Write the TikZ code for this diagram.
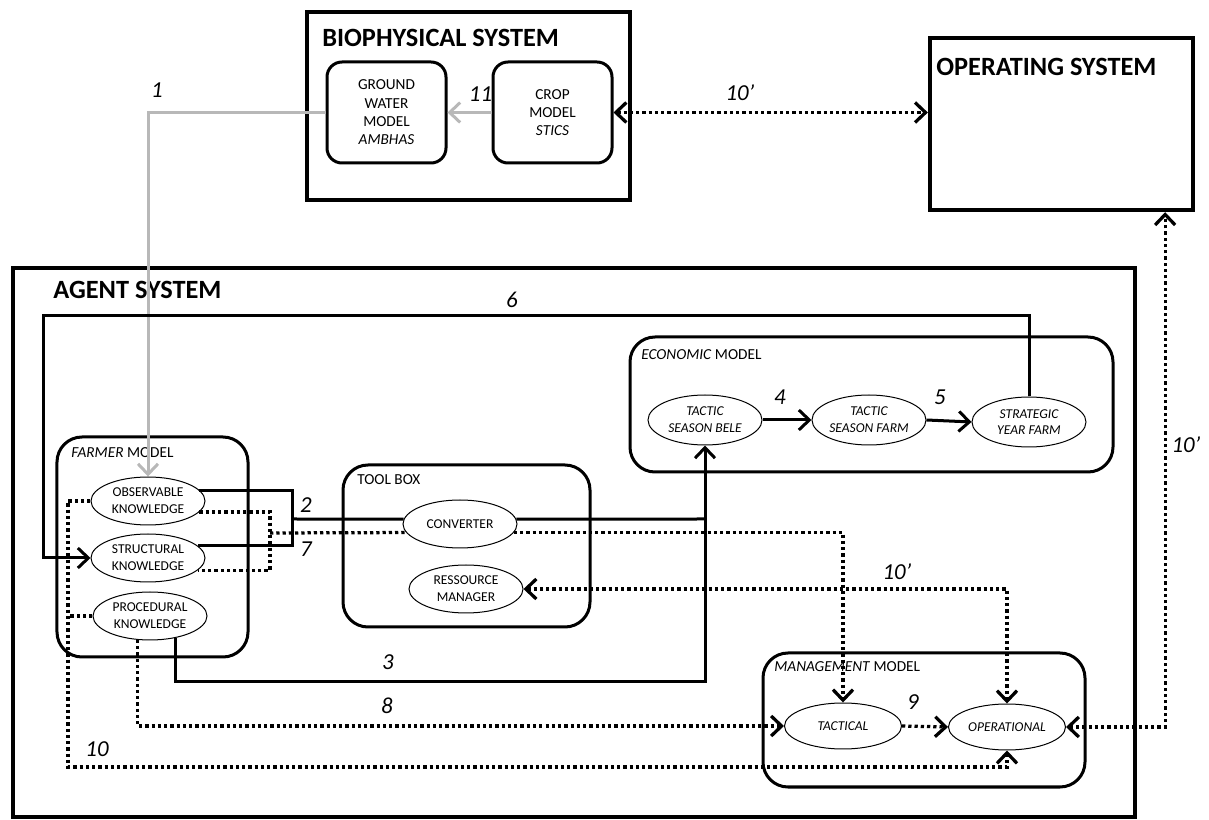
\documentclass[tikz,border=0pt]{standalone}
\usepackage{fontspec}
\setmainfont{Carlito}
\usetikzlibrary{arrows.meta,shapes.geometric}
\definecolor{lightgrey}{gray}{0.72}
\newcommand{\titlefont}{\fontsize{15}{18}\selectfont\bfseries}
\newcommand{\modelfont}{\fontsize{8.7}{10.4}\selectfont}
\newcommand{\ellfont}{\fontsize{7.7}{9.5}\selectfont}
\newcommand{\numfont}{\fontsize{13}{15}\selectfont\itshape}
\tikzset{
    line/.style={
        line width=0.6mm
    },
    arrow/.style={
        line,
        ->,
        > = {
            Straight Barb[length=2.1mm, width=4mm]
        }
    },
    dotline/.style={
        line,
        line width=0.65mm,
        dash pattern=on 0.65mm off 0.6mm
    },
    dotarrow/.style={
        dotline,
        ->,
        > = {
            Straight Barb[length=2.1mm, width=4mm]
        }
    },
    greyarrow/.style={
        arrow,
        draw=lightgrey
    },
    system/.style={
        draw,
        line width=0.85mm,
        inner sep=0
    },
    model/.style={
        draw,
        line width=0.6mm,
        rounded corners=5mm,
        inner sep=0
    },
    knowledge/.style={
        draw,
        ellipse,
        line width=0.2mm,
        minimum width=22.8mm,
        minimum height=9.6mm,
        inner sep=0,
        align=center,
        font=\ellfont
    },
    title/.style={
        anchor=west,
        inner sep=0
    },
    num/.style={
        inner sep=0,
        font=\numfont
    }
}

\begin{document}
\begin{tikzpicture}[x=0.2mm, y=-0.2mm]
    \useasboundingbox (0, 0) rectangle (1209, 820);
    % Biophysical system:
    \node [system, minimum width=64.6mm, minimum height=37.6mm] (bio) at (468.5, 106) {};
    \node [title, font=\titlefont] (biotitle) at (322, 38) {BIOPHYSICAL SYSTEM};
    \node [model, rounded corners=3mm, minimum width=23.8mm, minimum height=20.2mm, align=center, font=\modelfont] (gw) at (386.5, 112.5) {GROUND\\WATER\\MODEL\\\textit{AMBHAS}};
    \node [model, rounded corners=3mm, minimum width=23.8mm, minimum height=20.2mm, align=center, font=\modelfont] (crop) at (552.5, 112.5) {CROP\\MODEL\\\textit{STICS}};
    % Operating system:
    \node [system, minimum width=52.6mm, minimum height=34.4mm] (os) at (1061.5, 124) {};
    \node [title, font=\titlefont] (ostitle) at (936, 67) {OPERATING SYSTEM};
    % Agent system:
    \node [system, minimum width=224.4mm, minimum height=109.8mm] (agent) at (574, 542.5) {};
    \node [title, font=\titlefont] (agenttitle) at (53, 290) {AGENT SYSTEM};
    % Farmer model:
    \node [model, minimum width=38.2mm, minimum height=44mm] (farmer) at (152.5, 547) {};
    \node [title, font=\modelfont] (farmertitle) at (71, 453) {\textit{FARMER} MODEL};
    \node [knowledge] (obs) at (148, 501) {OBSERVABLE\\KNOWLEDGE};
    \node [knowledge] (str) at (148, 558) {STRUCTURAL\\KNOWLEDGE};
    \node [knowledge] (proc) at (150, 616) {PROCEDURAL\\KNOWLEDGE};
    % Tool box:
    \node [model, minimum width=49.4mm, minimum height=32.4mm] (tools) at (466.5, 546) {};
    \node [title, font=\modelfont] (toolstitle) at (357, 480) {TOOL BOX};
    \node [knowledge] (conv) at (460, 524) {CONVERTER};
    \node [knowledge] (res) at (466, 589) {RESSOURCE\\MANAGER};
    % Economic model:
    \node [model, minimum width=96.6mm, minimum height=27mm] (eco) at (871.5, 404.5) {};
    \node [title, font=\modelfont] (ecotitle) at (641, 355) {\textit{ECONOMIC} MODEL};
    \node [knowledge, minimum height=10mm, font=\ellfont\itshape] (bele) at (705, 420) {TACTIC\\SEASON BELE};
    \node [knowledge, minimum height=10mm, font=\ellfont\itshape] (farm) at (869, 420) {TACTIC\\SEASON FARM};
    \node [knowledge, minimum height=10mm, font=\ellfont\itshape] (strat) at (1029, 422) {STRATEGIC\\YEAR FARM};
    % Management model:
    \node [model, minimum width=64.4mm, minimum height=26.8mm] (manage) at (924, 720) {};
    \node [title, font=\modelfont] (managetitle) at (774, 667) {\textit{MANAGEMENT} MODEL};
    \node [knowledge, minimum width=23.4mm, minimum height=9.2mm, font=\ellfont\itshape] (tac) at (843, 726) {TACTICAL};
    \node [knowledge, minimum width=23.4mm, minimum height=9.2mm, font=\ellfont\itshape] (ope) at (1007, 727) {OPERATIONAL};
    % Junctions:
    \coordinate (c2) at (292, 519);
    \coordinate (c3) at (705, 682);
    \coordinate (c6) at (43, 316);
    \coordinate (c7) at (270, 533);
    \coordinate (c10) at (68, 767);
    \coordinate (jconv) at (705, 519);
    % Grey flows:
    \draw [greyarrow] (crop.west) -- node [num, text=black, pos=0.25, above=1.8mm] (n11) {11} (gw.east);
    \draw [greyarrow] (gw.west) -| (obs.north);
    \node [num] (n1) at (157, 90) {1};
    % Solid flows:
    \draw [line] (obs.12) -| (c2) |- (str.14);
    \draw [line] (c2) -- (conv.175);
    \draw [line] (conv.5) -- (jconv);
    \draw [arrow] (proc.-41) |- (c3) -- (bele.south);
    \draw [arrow] (strat.north) |- (c6) |- (str.west);
    \draw [arrow] (bele.east) -- (farm.west);
    \draw [arrow] (farm.east) -- (strat.west);
    \node [num] (n2) at (306, 505) {2};
    \node [num] (n7) at (306, 549) {7};
    \node [num] (n3) at (388, 662) {3};
    \node [num] (n4) at (780, 397) {4};
    \node [num] (n5) at (940, 397) {5};
    \node [num] (n6) at (512, 300) {6};
    % Dotted flows:
    \draw [dotline] (obs.-12) -| (c7) |- (str.-14);
    \draw [dotline] (c7) -- (conv.189);
    \draw [dotarrow] (conv.-9) -| (tac.north);
    \draw [dotarrow] (obs.west) -| (c10) -| (ope.south);
    \draw [dotline] (proc.west) -- (proc.west -| c10);
    \draw [dotarrow] (proc.-117) |- (tac.west);
    \draw [dotarrow] (tac.east) -- (ope.west);
    \draw [dotarrow, <->] (res.east) -| (ope.north);
    \draw [dotarrow, <->] (ope.east) -| ([xshift=-6mm]os.south east);
    \draw [dotarrow, <->] (crop.east) -- (crop.east -| os.west);
    \node [num] (n8) at (387, 706) {8};
    \node [num] (n9) at (913, 702) {9};
    \node [num] (n10) at (97, 749) {10};
    \node [num] (n10a) at (740, 93) {10’};
    \node [num] (n10b) at (897, 572) {10’};
    \node [num] (n10c) at (1186, 445) {10’};
\end{tikzpicture}
\end{document}
